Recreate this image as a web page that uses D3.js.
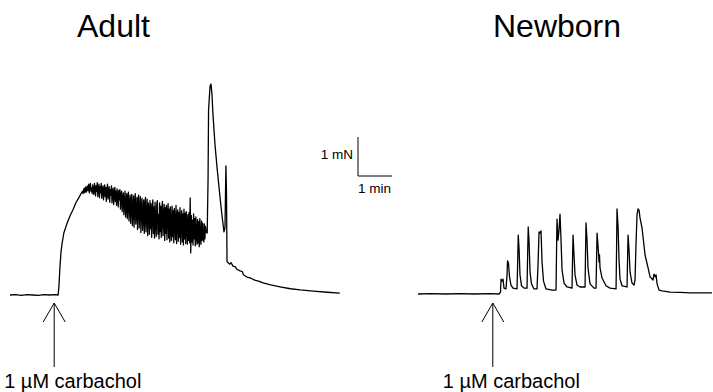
<!DOCTYPE html>
<html>
<head>
<meta charset="utf-8">
<script src="https://cdn.jsdelivr.net/npm/d3@7"></script>
<style>
  html, body { margin: 0; padding: 0; background: #fff; }
  svg { display: block; }
  text { font-family: "Liberation Sans", Arial, sans-serif; fill: #000; }
</style>
</head>
<body>
<svg id="chart" width="713" height="392"></svg>
<script>
// ---------- DATA (time in s, force in mN) ----------
const panelTitles = ["Adult", "Newborn"];
const drugLabel = "1 \u00B5M carbachol";
const scaleBarForce = 1;   // mN
const scaleBarTime = 60;   // s (1 min)
const scaleBarLabels = ["1 mN", "1 min"];
const drugTimes = [78, 132]; // s, adult / newborn

// Adult: baseline and rise
const adultStart = [
  [0,0],[10,0.01],[20,-0.01],[30,0.01],[40,0],[50,-0.01],[60,0.01],[70,0],[80,0.01],[85,0],
  [86.5,0.26],[88,0.69],[90,1.10],[92,1.33],[95,1.59],[101,1.85],[106,2.03],[111,2.18],
  [116,2.36],[122,2.51],[127,2.64]
];
// Adult: noisy plateau, sampled every 1 s from t = 128 s
const adultNoiseT0 = 128;
const adultNoiseDt = 1;
const adultNoise = [
  2.66,2.60,2.70,2.74,2.62,2.68,2.78,2.64,2.72,2.80,
  2.68,2.84,2.62,2.78,2.86,2.66,2.74,2.60,2.82,2.70,
  2.58,2.86,2.76,2.54,2.80,2.66,2.88,2.52,2.70,2.84,
  2.50,2.78,2.62,2.86,2.48,2.72,2.80,2.44,2.66,2.82,
  2.52,2.76,2.40,2.68,2.84,2.46,2.62,2.78,2.38,2.70,
  2.56,2.80,2.36,2.64,2.74,2.32,2.58,2.76,2.40,2.66,
  2.30,2.72,2.50,2.26,2.68,2.44,2.70,2.20,2.58,2.66,
  2.14,2.50,2.62,2.06,2.40,2.66,2.00,2.30,2.60,1.96,
  2.48,2.64,1.90,2.28,2.56,1.84,2.40,2.58,1.78,2.20,
  2.54,1.74,2.36,2.60,1.82,2.10,2.50,1.68,2.40,2.56,
  1.72,2.18,2.52,1.60,2.30,2.48,1.66,2.06,2.44,1.58,
  2.28,2.50,1.62,2.00,2.46,1.52,2.36,2.20,1.56,2.42,
  1.70,2.34,1.48,2.12,2.44,1.58,2.26,1.46,2.38,1.90,
  1.50,2.30,2.42,1.56,2.06,1.44,2.36,1.62,2.28,1.48,
  2.18,2.40,1.52,1.96,2.32,1.40,2.24,1.58,2.30,1.42,
  2.10,2.34,1.46,2.20,1.36,2.26,1.70,1.40,2.28,1.50,
  2.16,1.34,2.22,1.86,1.42,2.30,1.32,2.04,2.18,1.38,
  2.12,1.48,2.24,1.30,1.94,2.16,1.36,2.08,1.28,2.20,
  1.44,2.10,1.32,2.14,1.80,1.30,2.06,1.40,2.12,1.34,
  2.49,1.08,2.04,1.36,1.92,1.28,2.08,1.44,1.96,1.26,
  2.00,1.52,1.30,1.94,1.34,1.88,1.24,1.96,1.46,1.30,
  1.90,1.40,1.84,1.46,1.36,1.82,1.44,1.76,1.62
];
// Adult: large spike and decay
const adultEnd = [
  [348,1.59],[349.5,2.95],[350.4,4.74],[353,5.36],[354.7,5.41],[356.5,5.13],[358,4.67],
  [361.8,3.85],[365.3,3.28],[370.6,2.51],[374,2.05],[377.6,1.62],[379.4,1.72],[381,3.31],
  [382,2.69],[383,0.85],[388,0.79],[390,0.83],[393.5,0.74],[398,0.72],[400,0.66],[406,0.62],
  [410,0.60],[412,0.52],[418,0.46],[425,0.43],[432,0.38],[440,0.35],[446.5,0.31],[460,0.26],
  [476.5,0.21],[495,0.16],[512,0.13],[535,0.10],[560,0.07],[582,0.05]
];

// Newborn trace
const newborn = [
  [0,0],[21.2,0.01],[47.7,0],[74.1,0.01],[100.6,0],[127.1,0.01],[143.0,0],
  [145.6,0.05],[146.5,0.38],[148.3,0.33],[150.0,0.38],[151.8,0.15],[155.3,0.13],
  [157.1,0.49],[158.0,0.85],[159.7,0.79],[161.5,0.44],[164.1,0.23],[167.7,0.15],[174.7,0.13],
  [175.6,0.62],[176.9,1.51],[178.3,1.18],[180.0,0.49],[182.7,0.21],[187.1,0.15],[192.4,0.15],
  [193.3,0.87],[194.5,1.72],[195.9,1.38],[197.7,0.56],[200.3,0.26],[204.7,0.13],[210.0,0.13],
  [211.8,0.74],[213.6,1.59],[215.3,1.56],[217.1,1.62],[218.9,0.82],[221.5,0.33],[225.9,0.13],[236.5,0.10],[243.6,0.10],
  [244.5,1.13],[245.3,1.92],[247.1,1.38],[248.9,1.64],[250.6,2.05],[252.4,1.38],[254.2,0.62],[257.7,0.28],[263.0,0.18],[271.8,0.15],
  [272.7,0.87],[273.6,1.51],[275.3,1.00],[277.1,0.49],[280.6,0.23],[285.9,0.18],[294.8,0.18],
  [295.6,1.00],[296.5,1.82],[298.3,1.38],[300.0,0.67],[303.6,0.26],[310.6,0.15],[314.2,0.15],
  [315.1,0.87],[316.0,1.56],[317.7,1.23],[318.6,1.05],[319.5,0.82],[320.3,1.00],[321.2,0.67],[324.8,0.41],[331.8,0.21],[338.9,0.15],[349.5,0.13],
  [350.4,1.13],[351.2,2.18],[353.0,1.74],[354.8,0.87],[356.5,0.38],[360.1,0.21],[368.9,0.18],
  [369.8,0.87],[370.7,1.51],[372.4,1.13],[374.2,0.56],[377.7,0.28],[381.2,0.23],
  [383.0,0.36],[384.7,1.26],[386.5,2.03],[388.3,2.18],[390.1,2.15],[391.8,1.95],[395.4,1.69],[400.7,1.00],[406.0,0.67],[409.5,0.44],[414.8,0.36],
  [415.7,0.46],[416.6,0.51],[418.3,0.44],[420.1,0.49],[421.9,0.26],[425.4,0.10],[430.7,0.08],
  [444.8,0.05],[462.4,0.04],[480.1,0.03],[497.7,0.03],[518.9,0.03]
];

// ---------- DRAWING ----------
const svg = d3.select("#chart");
const pxPerSec = 34 / 60;
const pxPerMN = 39;

const adultData = adultStart
  .concat(adultNoise.map((v, i) => [adultNoiseT0 + i * adultNoiseDt, v]))
  .concat(adultEnd);

const axA = d3.scaleLinear().domain([0, 582]).range([10, 10 + 582 * pxPerSec]);
const ayA = d3.scaleLinear().domain([0, 1]).range([295, 295 - pxPerMN]);
const axN = d3.scaleLinear().domain([0, 518.9]).range([418, 418 + 518.9 * pxPerSec]);
const ayN = d3.scaleLinear().domain([0, 1]).range([294, 294 - pxPerMN]);

function drawTrace(data, x, y) {
  const line = d3.line().x(d => x(d[0])).y(d => y(d[1]));
  svg.append("path").datum(data)
    .attr("d", line)
    .attr("fill", "none")
    .attr("stroke", "#000")
    .attr("stroke-width", 1.3)
    .attr("stroke-linejoin", "round");
}
drawTrace(adultData, axA, ayA);
drawTrace(newborn, axN, ayN);

// Titles
svg.append("text").attr("x", 77).attr("y", 37).attr("font-size", 32).text(panelTitles[0]);
svg.append("text").attr("x", 493).attr("y", 37).attr("font-size", 32).text(panelTitles[1]);

// Arrows and labels
function drawArrow(xPos) {
  const g = svg.append("g").attr("stroke", "#000").attr("stroke-width", 1).attr("fill", "none");
  g.append("line").attr("x1", xPos).attr("x2", xPos).attr("y1", 303).attr("y2", 367);
  g.append("polyline").attr("points", `${xPos - 11},322 ${xPos},303 ${xPos + 11},322`);
  svg.append("text").attr("x", xPos - 50).attr("y", 388).attr("font-size", 20).text(drugLabel);
}
drawArrow(axA(drugTimes[0]));
drawArrow(axN(drugTimes[1]));

// Scale bar
const sbX = 358, sbY = 176;
const sbH = ayA(0) - ayA(scaleBarForce);
const sbW = axA(scaleBarTime) - axA(0);
svg.append("path")
  .attr("d", `M${sbX},${sbY - sbH}V${sbY}H${sbX + sbW}`)
  .attr("fill", "none").attr("stroke", "#000").attr("stroke-width", 1);
svg.append("text").attr("x", sbX - 5).attr("y", 159).attr("font-size", 13.5)
  .attr("text-anchor", "end").text(scaleBarLabels[0]);
svg.append("text").attr("x", sbX).attr("y", 193).attr("font-size", 13.5).text(scaleBarLabels[1]);
</script>
</body>
</html>
